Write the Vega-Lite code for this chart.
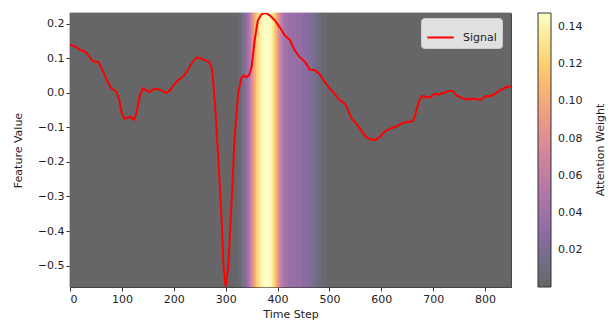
{
  "$schema": "https://vega.github.io/schema/vega-lite/v6.json",
  "width": 441,
  "height": 274,
  "autosize": "none",
  "padding": {"left": 70, "top": 13, "right": 103, "bottom": 38},
  "background": "white",
  "config": {
    "font": "DejaVu Sans",
    "view": {"stroke": "#333333", "strokeWidth": 1},
    "axis": {
      "grid": false,
      "domainColor": "#333333",
      "tickColor": "#333333",
      "tickSize": 4,
      "labelFontSize": 11,
      "labelColor": "#222222",
      "titleFontSize": 11,
      "titleFontWeight": "normal",
      "titleColor": "#222222",
      "labelFont": "DejaVu Sans",
      "titleFont": "DejaVu Sans"
    },
    "legend": {"labelFont": "DejaVu Sans", "titleFont": "DejaVu Sans"}
  },
  "datasets": {
    "attention": [
      {"t0": 0, "t1": 320, "w": 0.0005},
      {"t0": 320, "t1": 325, "w": 0.001},
      {"t0": 325, "t1": 330, "w": 0.004},
      {"t0": 330, "t1": 335, "w": 0.012},
      {"t0": 335, "t1": 340, "w": 0.022},
      {"t0": 340, "t1": 345, "w": 0.036},
      {"t0": 345, "t1": 350, "w": 0.056},
      {"t0": 350, "t1": 355, "w": 0.080},
      {"t0": 355, "t1": 360, "w": 0.104},
      {"t0": 360, "t1": 365, "w": 0.124},
      {"t0": 365, "t1": 370, "w": 0.137},
      {"t0": 370, "t1": 375, "w": 0.144},
      {"t0": 375, "t1": 380, "w": 0.1475},
      {"t0": 380, "t1": 385, "w": 0.147},
      {"t0": 385, "t1": 390, "w": 0.143},
      {"t0": 390, "t1": 395, "w": 0.132},
      {"t0": 395, "t1": 400, "w": 0.110},
      {"t0": 400, "t1": 405, "w": 0.085},
      {"t0": 405, "t1": 410, "w": 0.062},
      {"t0": 410, "t1": 415, "w": 0.047},
      {"t0": 415, "t1": 420, "w": 0.040},
      {"t0": 420, "t1": 425, "w": 0.037},
      {"t0": 425, "t1": 430, "w": 0.036},
      {"t0": 430, "t1": 435, "w": 0.035},
      {"t0": 435, "t1": 440, "w": 0.034},
      {"t0": 440, "t1": 445, "w": 0.033},
      {"t0": 445, "t1": 450, "w": 0.031},
      {"t0": 450, "t1": 455, "w": 0.029},
      {"t0": 455, "t1": 460, "w": 0.027},
      {"t0": 460, "t1": 465, "w": 0.024},
      {"t0": 465, "t1": 470, "w": 0.020},
      {"t0": 470, "t1": 475, "w": 0.016},
      {"t0": 475, "t1": 480, "w": 0.012},
      {"t0": 480, "t1": 485, "w": 0.008},
      {"t0": 485, "t1": 490, "w": 0.005},
      {"t0": 490, "t1": 495, "w": 0.003},
      {"t0": 495, "t1": 500, "w": 0.0015},
      {"t0": 500, "t1": 850, "w": 0.0005}
    ],
    "signal": [
      {"t": 0, "v": 0.139}, {"t": 12, "v": 0.132}, {"t": 21, "v": 0.123}, {"t": 30, "v": 0.118},
      {"t": 38, "v": 0.103}, {"t": 44, "v": 0.091}, {"t": 54, "v": 0.089}, {"t": 60, "v": 0.074},
      {"t": 67, "v": 0.050}, {"t": 73, "v": 0.031}, {"t": 80, "v": 0.012}, {"t": 86, "v": 0.007},
      {"t": 90, "v": 0.002}, {"t": 95, "v": -0.022}, {"t": 100, "v": -0.060}, {"t": 105, "v": -0.075},
      {"t": 111, "v": -0.072}, {"t": 117, "v": -0.070}, {"t": 123, "v": -0.078}, {"t": 128, "v": -0.060},
      {"t": 134, "v": -0.012}, {"t": 140, "v": 0.012}, {"t": 147, "v": 0.007}, {"t": 153, "v": 0.002},
      {"t": 163, "v": 0.012}, {"t": 173, "v": 0.009}, {"t": 179, "v": 0.004}, {"t": 186, "v": -0.001},
      {"t": 193, "v": 0.007}, {"t": 198, "v": 0.019}, {"t": 208, "v": 0.036}, {"t": 218, "v": 0.047},
      {"t": 227, "v": 0.065}, {"t": 236, "v": 0.089}, {"t": 244, "v": 0.102}, {"t": 253, "v": 0.099},
      {"t": 263, "v": 0.092}, {"t": 269, "v": 0.089}, {"t": 274, "v": 0.065}, {"t": 279, "v": -0.022},
      {"t": 285, "v": -0.167}, {"t": 292, "v": -0.360}, {"t": 296, "v": -0.504}, {"t": 300, "v": -0.560},
      {"t": 305, "v": -0.504}, {"t": 311, "v": -0.331}, {"t": 317, "v": -0.138}, {"t": 324, "v": -0.003},
      {"t": 330, "v": 0.041}, {"t": 334, "v": 0.050}, {"t": 340, "v": 0.045}, {"t": 345, "v": 0.050},
      {"t": 350, "v": 0.074}, {"t": 356, "v": 0.152}, {"t": 362, "v": 0.209}, {"t": 369, "v": 0.227},
      {"t": 377, "v": 0.231}, {"t": 385, "v": 0.224}, {"t": 395, "v": 0.209}, {"t": 404, "v": 0.190},
      {"t": 414, "v": 0.166}, {"t": 424, "v": 0.152}, {"t": 433, "v": 0.123}, {"t": 443, "v": 0.103},
      {"t": 453, "v": 0.089}, {"t": 462, "v": 0.067}, {"t": 472, "v": 0.065}, {"t": 482, "v": 0.053},
      {"t": 491, "v": 0.031}, {"t": 501, "v": 0.012}, {"t": 510, "v": -0.003}, {"t": 520, "v": -0.022},
      {"t": 530, "v": -0.032}, {"t": 536, "v": -0.051}, {"t": 543, "v": -0.075}, {"t": 551, "v": -0.088},
      {"t": 559, "v": -0.104}, {"t": 565, "v": -0.118}, {"t": 572, "v": -0.130}, {"t": 581, "v": -0.136},
      {"t": 590, "v": -0.136}, {"t": 598, "v": -0.126}, {"t": 607, "v": -0.112}, {"t": 617, "v": -0.104},
      {"t": 630, "v": -0.097}, {"t": 639, "v": -0.089}, {"t": 649, "v": -0.085}, {"t": 661, "v": -0.082},
      {"t": 665, "v": -0.065}, {"t": 672, "v": -0.027}, {"t": 678, "v": -0.010}, {"t": 688, "v": -0.012},
      {"t": 694, "v": -0.014}, {"t": 702, "v": -0.003}, {"t": 710, "v": -0.005}, {"t": 720, "v": -0.001},
      {"t": 729, "v": 0.005}, {"t": 738, "v": 0.005}, {"t": 745, "v": -0.008}, {"t": 755, "v": -0.015},
      {"t": 765, "v": -0.020}, {"t": 774, "v": -0.017}, {"t": 784, "v": -0.019}, {"t": 792, "v": -0.020},
      {"t": 800, "v": -0.010}, {"t": 810, "v": -0.010}, {"t": 819, "v": -0.003}, {"t": 829, "v": 0.007},
      {"t": 839, "v": 0.015}, {"t": 850, "v": 0.019}
    ]
  },
  "resolve": {"scale": {"stroke": "independent"}, "legend": {"stroke": "independent"}},
  "layer": [
    {
      "data": {"name": "attention"},
      "mark": {"type": "rect", "strokeWidth": 0.8},
      "encoding": {
        "x": {
          "field": "t0", "type": "quantitative",
          "scale": {"domain": [0, 850], "nice": false, "zero": false},
          "axis": {"values": [0, 100, 200, 300, 400, 500, 600, 700, 800], "title": "Time Step", "titlePadding": 4}
        },
        "x2": {"field": "t1"},
        "stroke": {
          "field": "w", "type": "quantitative",
          "scale": {
            "domain": [0.0003, 0.1475],
            "interpolate": "rgb",
            "range": ["#666668", "#736d88", "#8e6ca4", "#a674a8", "#be7da4", "#d78798", "#eb9789", "#f8ae75", "#fdc96c", "#fae790", "#fdffc8"]
          },
          "legend": null
        },
        "color": {
          "field": "w", "type": "quantitative",
          "scale": {
            "domain": [0.0003, 0.1475],
            "interpolate": "rgb",
            "range": ["#666668", "#736d88", "#8e6ca4", "#a674a8", "#be7da4", "#d78798", "#eb9789", "#f8ae75", "#fdc96c", "#fae790", "#fdffc8"]
          },
          "legend": {
            "orient": "none",
            "legendX": 468,
            "legendY": 0,
            "direction": "vertical",
            "gradientLength": 274,
            "gradientThickness": 13,
            "gradientStrokeColor": "#333333",
            "gradientStrokeWidth": 1,
            "values": [0.02, 0.04, 0.06, 0.08, 0.1, 0.12, 0.14],
            "format": ".2f",
            "labelFontSize": 11,
            "labelColor": "#222222",
            "labelOffset": 7,
            "title": "Attention Weight",
            "titleOrient": "right",
            "titleAnchor": "middle",
            "titleFontSize": 11,
            "titleFontWeight": "normal",
            "titleColor": "#222222",
            "titlePadding": 13,
            "encode": {"title": {"update": {"angle": {"value": 270}, "baseline": {"value": "top"}}}}
          }
        }
      }
    },
    {
      "data": {"name": "signal"},
      "mark": {"type": "line", "strokeWidth": 2, "clip": true},
      "encoding": {
        "x": {"field": "t", "type": "quantitative"},
        "y": {
          "field": "v", "type": "quantitative",
          "scale": {"domain": [-0.562, 0.2307], "nice": false, "zero": false},
          "axis": {"values": [-0.5, -0.4, -0.3, -0.2, -0.1, 0, 0.1, 0.2], "format": ".1f", "title": "Feature Value", "titlePadding": 14}
        },
        "stroke": {
          "datum": "Signal",
          "scale": {"range": ["#ff0000"]},
          "legend": {
            "orient": "none",
            "legendX": 351,
            "legendY": 5,
            "title": null,
            "fillColor": "rgba(255,255,255,0.8)",
            "strokeColor": "#cccccc",
            "cornerRadius": 3,
            "padding": 5,
            "symbolType": "stroke",
            "symbolSize": 700,
            "symbolStrokeWidth": 2,
            "labelFontSize": 11,
            "labelColor": "#222222",
            "labelOffset": 8
          }
        }
      }
    }
  ]
}
